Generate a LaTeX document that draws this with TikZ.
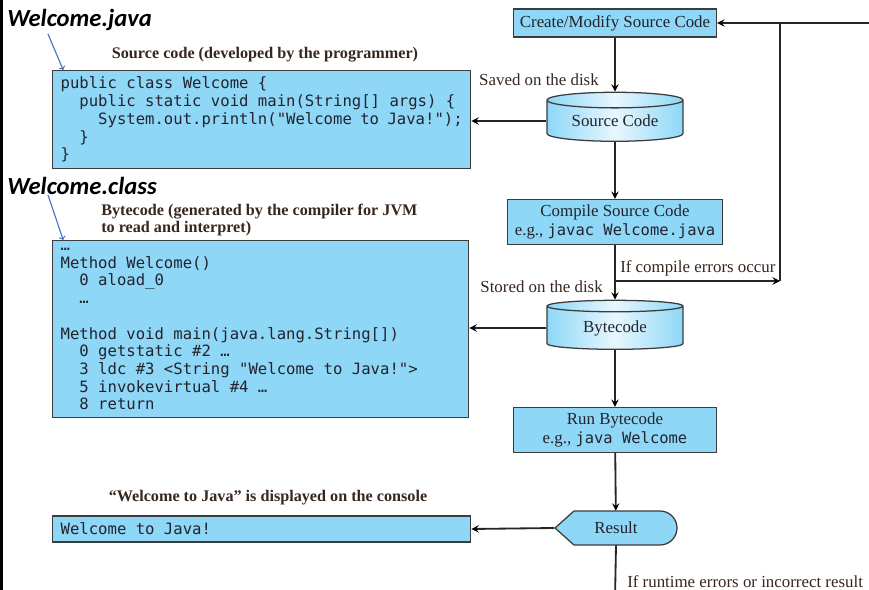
\documentclass[tikz,border=0pt]{standalone}
\usepackage{fontspec}
\setmainfont{Liberation Serif}
\newfontfamily\codefont{DejaVu Sans Mono}
\newfontfamily\filefont{Carlito}
\usetikzlibrary{arrows,positioning,shapes.geometric}
\definecolor{boxblue}{RGB}{142,215,247}
\definecolor{linec}{RGB}{60,60,60}
\definecolor{textc}{RGB}{35,35,45}
\definecolor{labelc}{RGB}{55,38,30}
\definecolor{tagblue}{RGB}{68,114,196}
\newcommand{\codesize}[2]{\codefont\fontsize{#1}{#2}\selectfont}
\tikzstyle{box}=[draw=linec,fill=boxblue,line width=0.9pt,inner sep=0pt,text=textc,align=center,font=\fontsize{12}{13.5}\selectfont]
\tikzstyle{code}=[box,anchor=north west,align=flush left,inner xsep=0.2cm,font=\codesize{11.1}{12.6}]
\tikzstyle{disk}=[cylinder,shape border rotate=90,aspect=0.18,draw=linec,line width=0.9pt,shade,left color=boxblue,right color=boxblue,middle color=boxblue!20,text=textc,minimum width=3.4cm,minimum height=1.225cm,inner sep=0pt,font=\fontsize{12}{13.5}\selectfont]
\tikzstyle{note}=[text=labelc,inner sep=0pt,font=\fontsize{12}{13.5}\selectfont]
\tikzstyle{head}=[text=labelc,inner sep=0pt,font=\bfseries\fontsize{11.5}{12}\selectfont]
\tikzstyle{tag}=[anchor=west,inner sep=0pt,font=\filefont\bfseries\itshape\fontsize{17.5}{19}\selectfont]
\newcommand{\ind}{\phantom{xx}}
\newcommand{\mono}[1]{{\codesize{11}{12}#1}}

\begin{document}
\begin{tikzpicture}[x=0.025cm,y=-0.025cm]
\useasboundingbox (0,0) rectangle (869,590);
\fill (0,0) rectangle (3,590);

% files on the left
\node[tag] (javaname) at (7,20) {Welcome.java};
\node[head] (srchead) at (265,55) {Source code (developed by the programmer)};
\node[code,minimum width=10.45cm,minimum height=2.45cm,text width=10.05cm] (srcbox) at (52,70)
{public class Welcome \{\\
\ind public static void main(String[] args) \{\\
\ind\ind System.out.println("Welcome to Java!");\\
\ind \}\\
\}};
\node[tag] (classname) at (7,186) {Welcome.class};
\node[head,anchor=west,align=left] (bytehead) at (101,220) {Bytecode (generated by the compiler for JVM\\to read and interpret)};
\node[code,minimum width=10.4cm,minimum height=4.425cm,text width=10cm] (bytebox) at (52,240)
{…\\
Method Welcome()\\
\ind 0 aload\_0\\
\ind …\\
\mbox{}\\
Method void main(java.lang.String[])\\
\ind 0 getstatic \#2 …\\
\ind 3 ldc \#3 <String "Welcome to Java!">\\
\ind 5 invokevirtual \#4 …\\
\ind 8 return};
\node[head] (outhead) at (268,498) {“Welcome to Java” is displayed on the console};
\node[code,anchor=west,minimum width=10.45cm,minimum height=0.65cm,text width=10.05cm] (console) at (52,529) {Welcome to Java!};

% the flow on the right
\node[box,minimum width=5.075cm,minimum height=0.7cm] (create) at (615,23) {Create/Modify Source Code};
\node[disk] (srcdisk) at (615,121) {Source Code};
\node[box,minimum width=5.375cm,minimum height=1.125cm] (compile) at (615,222) {Compile Source Code\\e.g., \mono{javac Welcome.java}};
\node[disk] (bytedisk) at (615,328) {Bytecode};
\node[box,minimum width=5.075cm,minimum height=1.125cm] (run) at (615,430) {Run Bytecode\\e.g., \mono{java Welcome}};
\draw[draw=linec,fill=boxblue,line width=0.9pt] (555,528) -- (574,511) -- (660,511) arc[start angle=-90,end angle=90,radius=17] -- (574,545) -- cycle;
\node[text=textc,inner sep=0pt,minimum width=3.075cm,minimum height=0.85cm,font=\fontsize{12}{13.5}\selectfont] (res) at (616,528) {Result};

\node[note,anchor=east] (saved) at (599,80) {Saved on the disk};
\node[note,anchor=east] (stored) at (603,287) {Stored on the disk};
\node[note,anchor=west] (cerr) at (620,268) {If compile errors occur};
\node[note,anchor=west] (rerr) at (627,582) {If runtime errors or incorrect result};

\coordinate (jtail) at (48,34);
\coordinate (ctail) at (48,195);
\coordinate (rt) at (880,23);
\coordinate (back) at (780,23);
\coordinate (fork) at (615,281);
\coordinate (bot) at (615,600);

\path[->,>=stealth,line width=1.3pt,draw=black!85]
(create) edge (srcdisk)
(srcdisk.west) edge (srcdisk.west -| srcbox.east)
(srcdisk) edge (compile)
(compile) edge (bytedisk)
(fork) edge (back |- fork)
(bytedisk.west) edge (bytedisk.west -| bytebox.east)
(bytedisk) edge (run)
(run) edge (res)
(res.west) edge (console.east)
(rt) edge (create);
\draw[line width=1.3pt,draw=black!85] (back |- fork) -- (back) (res.south) -- (bot);
\draw[->,tagblue,line width=0.8pt] (jtail) -- ([xshift=0.28cm]srcbox.north west);
\draw[->,tagblue,line width=0.8pt] (ctail) -- ([xshift=0.28cm]bytebox.north west);
\end{tikzpicture}
\end{document}
